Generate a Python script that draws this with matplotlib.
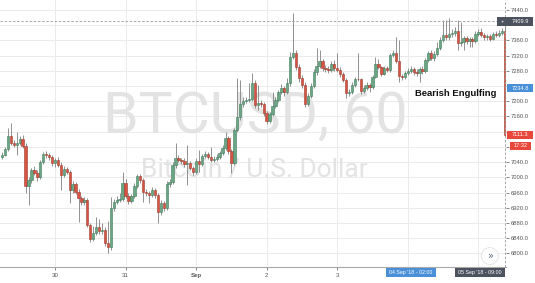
import numpy as np
import matplotlib
matplotlib.use("Agg")
import matplotlib.pyplot as plt
from matplotlib.patches import Rectangle
from matplotlib.transforms import blended_transform_factory

# BTCUSD hourly candles, x = hours since 30 Aug 2018 00:00
first_hour = -18
first_open = 7053
close = [
    7059, 7074, 7109, 7090, 7085, 7090, 7101, 7082, 6977, 6993, 7019, 7011, 7001, 7040, 7061, 7059, 7053, 7038,
    7045, 7032, 7006, 7022, 7014, 6967, 6982, 6961, 6946, 6935, 6940, 6875, 6838, 6854, 6869, 6859, 6861, 6827,
    6817, 6919, 6935, 6940, 6943, 6985,
    6951, 6938, 6951, 6977, 7003, 6993, 6961, 6959, 6953, 6967, 6953, 6909, 6932, 6919, 6982, 6988, 7032, 7051,
    7045, 7043, 7035, 7038, 7024, 7014,
    7043, 7035, 7056, 7061, 7053, 7045, 7048, 7053, 7064, 7077, 7103, 7069, 7038, 7124, 7159, 7193, 7201, 7203,
    7206, 7248, 7190, 7195, 7193, 7169,
    7148, 7166, 7188, 7203, 7224, 7235, 7224, 7248, 7316, 7327, 7290, 7261, 7243, 7193, 7214, 7240, 7277, 7293,
    7306, 7287, 7285, 7282, 7298, 7287,
    7282, 7272, 7256, 7222, 7224, 7243, 7259, 7258, 7227, 7235, 7243, 7238, 7264, 7298, 7290, 7272, 7287, 7282,
    7322, 7327, 7306, 7266, 7264, 7274,
    7280, 7285, 7277, 7274, 7285, 7280, 7309, 7327, 7314, 7324, 7340, 7361, 7374, 7369, 7377, 7380, 7385, 7353,
    7356, 7366, 7358, 7364, 7358, 7377,
    7382, 7374, 7369, 7372, 7364, 7377, 7374, 7380, 7385, 7111.3,
]
high = [
    7066, 7080, 7130, 7143, 7097, 7119, 7108, 7112, 7089, 7000, 7025, 7030, 7018, 7045, 7067, 7070, 7064, 7058,
    7052, 7053, 7040, 7030, 7028, 7018, 6990, 6988, 6970, 6952, 6948, 6945, 6880, 6872, 6896, 6890, 6880, 6868,
    6886, 6948, 6942, 6950, 6960, 7014,
    6995, 6958, 6957, 6984, 7010, 7008, 6998, 6968, 6965, 6975, 6972, 6958, 6940, 6938, 6990, 6995, 7040, 7090,
    7058, 7052, 7050, 7085, 7044, 7030,
    7050, 7072, 7062, 7068, 7066, 7080, 7055, 7060, 7070, 7085, 7119, 7108, 7074, 7130, 7261, 7255, 7210, 7212,
    7248, 7274, 7255, 7243, 7203, 7198,
    7175, 7172, 7225, 7210, 7230, 7245, 7240, 7262, 7330, 7432, 7335, 7298, 7268, 7250, 7222, 7248, 7285, 7340,
    7335, 7312, 7295, 7292, 7305, 7308,
    7327, 7290, 7278, 7262, 7232, 7250, 7265, 7327, 7262, 7242, 7250, 7248, 7270, 7316, 7310, 7294, 7292, 7293,
    7328, 7334, 7369, 7361, 7272, 7280,
    7287, 7292, 7290, 7284, 7290, 7292, 7315, 7333, 7335, 7332, 7356, 7370, 7414, 7414, 7419, 7390, 7395, 7414,
    7408, 7372, 7372, 7370, 7368, 7384,
    7390, 7393, 7380, 7378, 7376, 7383, 7384, 7388, 7393, 7401,
]
low = [
    7048, 7055, 7070, 7086, 7079, 7059, 7085, 7078, 6960, 6927, 6985, 7005, 6990, 6995, 7034, 7052, 7045, 7030,
    7028, 7026, 6967, 7000, 7008, 6932, 6960, 6955, 6882, 6928, 6928, 6868, 6830, 6832, 6848, 6852, 6850, 6820,
    6801, 6810, 6912, 6930, 6935, 6938,
    6945, 6930, 6932, 6945, 6972, 6985, 6935, 6950, 6932, 6948, 6945, 6880, 6900, 6912, 6915, 6975, 6982, 7025,
    7040, 7035, 7028, 6980, 7018, 7005,
    7008, 7014, 7030, 7050, 7047, 7040, 7040, 7043, 7048, 7058, 7072, 7062, 7011, 7032, 7118, 7152, 7185, 7195,
    7198, 7200, 7182, 7177, 7186, 7160,
    7140, 7142, 7160, 7182, 7198, 7218, 7215, 7218, 7240, 7310, 7282, 7250, 7235, 7185, 7188, 7208, 7235, 7270,
    7288, 7280, 7278, 7274, 7276, 7280,
    7276, 7265, 7250, 7209, 7215, 7220, 7238, 7252, 7220, 7222, 7230, 7225, 7232, 7260, 7284, 7266, 7268, 7276,
    7278, 7316, 7300, 7251, 7256, 7258,
    7268, 7275, 7270, 7266, 7251, 7272, 7275, 7302, 7308, 7305, 7318, 7335, 7355, 7362, 7360, 7368, 7372, 7335,
    7345, 7335, 7350, 7343, 7343, 7352,
    7372, 7368, 7362, 7360, 7358, 7360, 7368, 7370, 7374, 7106,
]

day_hours = [0, 24, 48, 72, 96, 120, 144]
day_labels = ["30", "31", "Sep", "2", "3", "", ""]     # 4 and 5 sit under the time tags
price_ticks = list(range(6800, 7441, 40))
hidden_prices = [7400, 7240, 7120, 7080]               # covered by the price tags

crosshair_price = 7409.9
marker_price = 7234.8
last_price = 7111.3
countdown = "17:32"
crosshair_hour = 153
marker_hour_label = "04 Sep '18 - 02:00"
marker_hour = 122
cursor_hour_label = "05 Sep '18 - 09:00"

UP, DOWN, WICK = "#6ba583", "#d75442", "#808080"

hours = np.arange(len(close)) + first_hour
opens = np.array([first_open] + close[:-1], dtype=float)
closes = np.array(close, dtype=float)

fig = plt.figure(figsize=(5.35, 2.83), dpi=100)
ax = fig.add_axes([0, 16 / 283, 506 / 535, 267 / 283])
ax.set_xlim(-18.7, 153.4)
ax.set_ylim(6764.1, 7466.3)

# grid
for p in price_ticks:
    ax.axhline(p, color="#ebebeb", lw=0.7, zorder=0)
for d in day_hours:
    ax.axvline(d, color="#ebebeb", lw=0.7, zorder=0)

# watermark
ax.text(0.504, 0.56, "BTCUSD, 60", transform=ax.transAxes, ha="center", va="center",
        fontsize=41, family="Roboto", color="#e3e3e3", zorder=0.5)
ax.text(0.502, 0.365, "Bitcoin / U.S. Dollar", transform=ax.transAxes, ha="center", va="center",
        fontsize=19, family="Roboto", color="#e3e3e3", zorder=0.5)

# candles
up = closes >= opens
colors = np.where(up, UP, DOWN)
edges = np.where(up, "#3f7d5c", "#9e3a2c")
ax.vlines(hours, low, high, color=WICK, lw=0.6, zorder=2)
ax.bar(hours, closes - opens, bottom=opens, width=0.8, color=colors,
       edgecolor=edges, linewidth=0.4, zorder=3)

# crosshair
ax.axhline(crosshair_price, color="#9a9a9a", lw=0.6, ls=(0, (3, 2)), zorder=4)
ax.axvline(crosshair_hour, color="#9a9a9a", lw=0.6, ls=(0, (3, 2)), zorder=4)

ax.text(0.9, 0.648, "Bearish Engulfing", transform=ax.transAxes, ha="center", va="center",
        fontsize=6.8, family="Liberation Sans", fontweight="bold", color="#111111", zorder=6)

ax.text(0.968, 0.041, "\u00bb", transform=ax.transAxes, ha="center", va="center",
        fontsize=7, color="#5d6b80", zorder=6,
        bbox=dict(boxstyle="circle,pad=0.35", fc="white", ec="#e0e0e0", lw=0.6))

# axes styling
for s in ["top", "left", "right"]:
    ax.spines[s].set_visible(False)
ax.spines["bottom"].set_color("#a8a8a8")
ax.spines["bottom"].set_linewidth(0.8)
ax.yaxis.tick_right()
ax.set_yticks(price_ticks)
ax.set_yticklabels(["" if p in hidden_prices else f"{p:.1f}" for p in price_ticks])
ax.set_xticks(day_hours)
ax.set_xticklabels(day_labels)
ax.get_xticklabels()[2].set_fontweight("bold")
ax.tick_params(axis="y", length=2, width=0.5, pad=1.2, colors="#555555",
               labelsize=4.2, labelfontfamily="Liberation Sans")
ax.tick_params(axis="x", length=2, width=0.5, pad=2.5, colors="#555555",
               labelsize=4.4, labelfontfamily="Liberation Sans")

# price tags on the right
ty = blended_transform_factory(ax.transAxes, ax.transData)
def price_tag(price, text, color, x0=507, w=26, h=22):
    ax.add_patch(Rectangle((x0 / 506, price - h / 2), w / 506, h, transform=ty, fc=color,
                           ec="none", clip_on=False, zorder=8))
    ax.text((x0 + w / 2) / 506, price, text, transform=ty, ha="center", va="center",
            color="white", fontsize=4.1, family="Liberation Sans", zorder=9, clip_on=False)

price_tag(crosshair_price, f"{crosshair_price:.1f}", "#4c525e")
price_tag(crosshair_price, "+", "#4c525e", x0=497, w=10)
price_tag(marker_price, f"{marker_price:.1f}", "#4a90d9")
price_tag(last_price, f"{last_price:.1f}", "#e8473b")
price_tag(last_price - 28.5, countdown, "#e8473b", x0=510, w=21)

# time tags on the bottom
tx = blended_transform_factory(ax.transData, ax.transAxes)
def time_tag(hour, text, color, w=17):
    ax.add_patch(Rectangle((hour - w / 2, -0.038), w, 0.036, transform=tx, fc=color,
                           ec="none", clip_on=False, zorder=8))
    ax.text(hour, -0.02, text, transform=tx, ha="center", va="center",
            color="white", fontsize=3.8, family="Liberation Sans", zorder=9, clip_on=False)

time_tag(marker_hour - 1, marker_hour_label, "#4a90d9")
time_tag(crosshair_hour - 8.5, cursor_hour_label, "#4c525e")

fig.savefig("out.png", dpi=100, facecolor="white")
